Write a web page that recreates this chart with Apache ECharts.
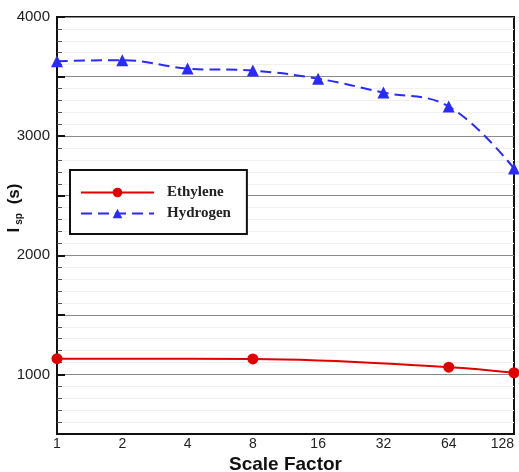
<!DOCTYPE html>
<html>
<head>
<meta charset="utf-8">
<script src="https://cdn.jsdelivr.net/npm/echarts@6/dist/echarts.min.js"></script>
<style>html,body{margin:0;padding:0;background:#fff}#c{width:519px;height:472px}</style>
</head>
<body>
<div id="c"></div>
<script>
const xTicks = [1, 2, 4, 8, 16, 32, 64, 128];
const hydrogenX = [1, 2, 4, 8, 16, 32, 64, 128];
const hydrogenY = [3628, 3638, 3567, 3550, 3482, 3366, 3249, 2729];
const ethyleneX = [1, 8, 64, 128];
const ethyleneY = [1132, 1130, 1061, 1014];

const chart = echarts.init(document.getElementById('c'));
const sans = 'Liberation Sans, Arial, sans-serif';
chart.setOption({
  animation: false,
  backgroundColor: '#fff',
  grid: { left: 57, right: 5, top: 17, bottom: 38, show: true, borderColor: '#111', borderWidth: 2, backgroundColor: 'transparent', outerBoundsMode: 'none', containLabel: false },
  legend: {
    orient: 'vertical', left: 70, top: 170, width: 177,
    borderColor: '#111', borderWidth: 2, backgroundColor: '#fff',
    padding: [15, 16, 13, 10], itemGap: 6,
    itemWidth: 73, itemHeight: 12,
    textStyle: { fontFamily: 'Liberation Serif, Times New Roman, serif', fontWeight: 'bold', fontSize: 15, color: '#222', padding: [0, 0, 0, 8] },
    data: ['Ethylene', 'Hydrogen']
  },
  xAxis: {
    type: 'log', logBase: 2, min: 1, max: 128,
    name: 'Scale Factor', nameLocation: 'middle', nameGap: 21, nameMoveOverlap: false,
    nameTextStyle: { fontFamily: sans, fontWeight: 'bold', fontSize: 19, color: '#111' },
    axisLine: { show: true, lineStyle: { color: '#111', width: 2 } },
    axisTick: { show: false },
    axisLabel: { fontFamily: sans, fontSize: 14, color: '#222', margin: 3, alignMaxLabel: 'right',
      formatter: v => xTicks.includes(Math.round(v)) ? String(Math.round(v)) : '' },
    splitLine: { show: false },
    minorTick: { show: false }
  },
  yAxis: {
    type: 'value', min: 500, max: 4000, interval: 500,
    name: '{i|I}{sub|sp}{i| (s)}', nameLocation: 'middle', nameGap: 33, nameRotate: 90, nameMoveOverlap: false,
    nameTextStyle: { padding: [0, 0, 0, 35], rich: {
      i: { fontFamily: sans, fontWeight: 'bold', fontSize: 17, color: '#111' },
      sub: { fontFamily: sans, fontWeight: 'bold', fontSize: 10, color: '#111', padding: [10, 4, 0, 3] }
    } },
    axisLine: { show: true, lineStyle: { color: '#111', width: 2 } },
    axisTick: { show: true, inside: true, length: 8, lineStyle: { color: '#111', width: 2 } },
    minorTick: { show: true, splitNumber: 5, length: 5, lineStyle: { color: '#555' } },
    axisLabel: { fontFamily: sans, fontSize: 15, color: '#222', margin: 7,
      formatter: v => (v % 1000 === 0 ? String(v) : '') },
    splitLine: { show: true, lineStyle: { color: '#8a8a8a', width: 1.2 } },
    minorSplitLine: { show: true, lineStyle: { color: '#f0f0f0', width: 1 } }
  },
  series: [
    {
      name: 'Ethylene', type: 'line', smooth: 0.4,
      data: ethyleneX.map((x, i) => [x, ethyleneY[i]]),
      symbol: 'circle', symbolSize: 11,
      lineStyle: { color: '#e00000', width: 2 },
      itemStyle: { color: '#e00000' }
    },
    {
      name: 'Hydrogen', type: 'line', smooth: 0.4,
      data: hydrogenX.map((x, i) => [x, hydrogenY[i]]),
      symbol: 'triangle', symbolSize: 12,
      lineStyle: { color: '#2a2aff', width: 2, type: [11, 6] },
      itemStyle: { color: '#2a2aff' }
    }
  ]
});
</script>
</body>
</html>
